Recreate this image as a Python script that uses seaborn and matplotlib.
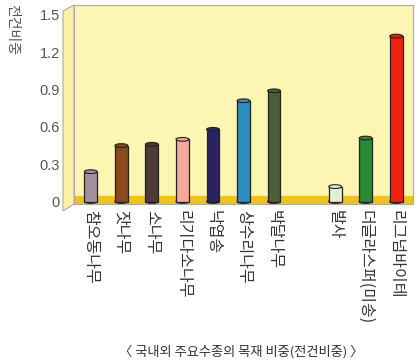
import matplotlib
matplotlib.use("Agg")
import matplotlib.pyplot as plt
import seaborn as sns
import pandas as pd
from matplotlib.patches import Ellipse, Polygon

species = ["참오동나무", "잣나무", "소나무", "리기다소나무", "낙엽송", "상수리나무",
           "박달나무", "", "발사", "더글라스퍼(미송)", "리그넘바이테"]
density = [0.24, 0.45, 0.46, 0.50, 0.58, 0.81, 0.89, float("nan"), 0.12, 0.51, 1.33]
bar_colors = ["#a3909e", "#8a4a1c", "#4b3a36", "#f4a79a", "#2b2260", "#2a8fc0",
              "#4b6038", "#ffffff", "#e2f0d2", "#2a8a32", "#f0200e"]

df = pd.DataFrame({"species": species, "density": density})
palette = dict(zip(species, bar_colors))

sns.set_style("white")
plt.rcParams["font.family"] = ["Noto Sans CJK KR", "DejaVu Sans"]

fig = plt.figure(figsize=(4.2, 3.63), dpi=100)
ax = fig.add_axes([74 / 420, 1 - 204 / 363, 339 / 420, 199 / 363])
ax.set_facecolor("#fdf6b2")

# floor strip
ax.axhspan(-0.02, 0.045, color="#f2c21c", zorder=0)

sns.barplot(data=df, x="species", y="density", hue="species", order=species,
            palette=palette, legend=False, width=0.42, edgecolor="#222222",
            linewidth=0.9, saturation=1, ax=ax, zorder=2)

# cylinder caps
for cont in ax.containers:
    for p in cont.patches:
        h = p.get_height()
        if not h == h:
            continue
        cx = p.get_x() + p.get_width() / 2
        fc = p.get_facecolor()
        ax.add_patch(Ellipse((cx, h), p.get_width(), 0.03, facecolor=fc,
                             edgecolor="#222222", linewidth=0.8, zorder=3))
        ax.add_patch(Ellipse((cx, 0.0), p.get_width(), 0.03, facecolor=fc,
                             edgecolor="#222222", linewidth=0.8, zorder=1.9))

ax.set_ylim(-0.02, 1.58)
ax.set_xlim(-0.55, len(species) - 0.45)
ax.set_yticks([0, 0.3, 0.6, 0.9, 1.2, 1.5])
ax.set_yticklabels(["0", "0.3", "0.6", "0.9", "1.2", "1.5"],
                   family="Liberation Sans", fontsize=10.5, color="#555555")
ax.tick_params(axis="y", length=0, pad=10)
ax.tick_params(axis="x", length=0, pad=4)
ax.set_xticks(range(len(species)))
ax.set_xticklabels(species, rotation=270, fontsize=11.5, color="#333333",
                   va="top", ha="center")
ax.set_xlabel("")
ax.set_ylabel("")
for s in ax.spines.values():
    s.set_color("#aaaaaa")
    s.set_linewidth(0.8)

# left side wall
wall = Polygon([(63 / 420, 1 - 11 / 363), (74 / 420, 1 - 5 / 363),
                (74 / 420, 1 - 204 / 363), (63 / 420, 1 - 211 / 363)],
               closed=True, transform=fig.transFigure, facecolor="#fbf1a8",
               edgecolor="#aaaaaa", linewidth=0.8)
fig.patches.append(wall)

fig.text(12 / 420, 1 - 4 / 363, "전건비중", rotation=270, va="top", ha="center",
         fontsize=10, color="#555555")
fig.text(241 / 420, 1 - 352 / 363, "〈 국내외 주요수종의 목재 비중(전건비중) 〉",
         ha="center", va="center", fontsize=9.5, color="#333333")

fig.savefig("out.png", dpi=100)
